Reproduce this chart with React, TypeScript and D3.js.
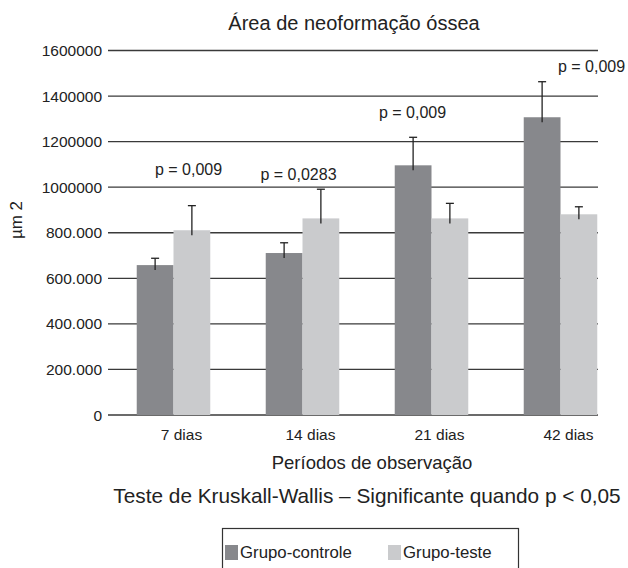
import React, { useEffect, useRef } from "react";
import * as d3 from "d3";

// data
const periods = ["7 dias", "14 dias", "21 dias", "42 dias"];
const controle = [658000, 711000, 1096000, 1307000];
const controleErr = [30000, 45000, 123000, 156000];
const teste = [811000, 863000, 863000, 881000];
const testeErr = [108000, 128000, 66000, 33000];
const pLabels = ["p = 0,009", "p = 0,0283", "p = 0,009", "p = 0,009"];
const yTicks = [0, 200000, 400000, 600000, 800000, 1000000, 1200000, 1400000, 1600000];
const yTickLabels = ["0", "200.000", "400.000", "600.000", "800.000", "1000000", "1200000", "1400000", "1600000"];
const seriesNames = ["Grupo-controle", "Grupo-teste"];

// layout only: where the p labels sit relative to their group (px)
const pNudge = [[15, -31], [-4, -9], [-19, -19], [31, -10]];

const W = 628;
const H = 568;
const FONT = "'Liberation Sans', Arial, Helvetica, sans-serif";
const DARK = "#87888c";
const LIGHT = "#cacbcd";
const INK = "#222";

export default function App() {
    const ref = useRef<SVGSVGElement>(null);

    useEffect(() => {
        const svg = d3.select(ref.current);
        svg.selectAll("*").remove();

        const left = 108, right = 598;
        const y = d3.scaleLinear().domain([0, 1600000]).range([415, 50.5]);
        const x0 = d3.scaleBand().domain(periods).range([109, 625]).paddingInner(0.43).paddingOuter(0.215);
        const x1 = d3.scaleBand().domain(seriesNames).range([0, x0.bandwidth()]);

        svg.append("rect").attr("width", W).attr("height", H).attr("fill", "#fff");

        // title
        svg.append("text")
            .attr("x", 354).attr("y", 30)
            .attr("text-anchor", "middle")
            .style("font-size", "20px")
            .text("Área de neoformação óssea");

        // gridlines + tick labels
        const g = svg.append("g");
        g.selectAll("line.grid").data(yTicks).enter().append("line")
            .attr("x1", left).attr("x2", right)
            .attr("y1", d => y(d)).attr("y2", d => y(d))
            .attr("stroke", "#3a3a3a").attr("stroke-width", 1.3);
        g.selectAll("text.tick").data(yTicks).enter().append("text")
            .attr("x", 102).attr("y", d => y(d) + 5.5)
            .attr("text-anchor", "end")
            .style("font-size", "15.5px")
            .text((d, i) => yTickLabels[i]);

        // y title
        svg.append("text")
            .attr("transform", "translate(22,220) rotate(-90)")
            .attr("text-anchor", "middle")
            .style("font-size", "17px")
            .text("µm 2");

        // bars
        const series = [
            { name: seriesNames[0], vals: controle, errs: controleErr, color: DARK },
            { name: seriesNames[1], vals: teste, errs: testeErr, color: LIGHT },
        ];
        series.forEach(s => {
            const bx = (i: number) => (x0(periods[i]) as number) + (x1(s.name) as number);
            svg.append("g").selectAll("rect").data(s.vals).enter().append("rect")
                .attr("x", (d, i) => bx(i))
                .attr("y", d => y(d))
                .attr("width", x1.bandwidth())
                .attr("height", d => y(0) - y(d))
                .attr("fill", s.color);
            const eg = svg.append("g").attr("stroke", INK).attr("stroke-width", 1.3);
            s.vals.forEach((v, i) => {
                const cx = bx(i) + x1.bandwidth() / 2;
                const top = y(v + s.errs[i]);
                eg.append("line").attr("x1", cx).attr("x2", cx).attr("y1", y(v) + 5).attr("y2", top);
                eg.append("line").attr("x1", cx - 4).attr("x2", cx + 4).attr("y1", top).attr("y2", top);
            });
        });

        // p-values
        periods.forEach((p, i) => {
            const top = Math.min(y(controle[i] + controleErr[i]), y(teste[i] + testeErr[i]));
            const cx = (x0(p) as number) + x0.bandwidth() / 2;
            svg.append("text")
                .attr("x", cx + pNudge[i][0]).attr("y", top + pNudge[i][1])
                .attr("text-anchor", "middle")
                .style("font-size", "16px")
                .text(pLabels[i]);
        });

        // category labels
        svg.append("g").selectAll("text").data(periods).enter().append("text")
            .attr("x", d => (x0(d) as number) + x0.bandwidth() / 2 + 8)
            .attr("y", 440)
            .attr("text-anchor", "middle")
            .style("font-size", "15.5px")
            .text(d => d);

        svg.append("text")
            .attr("x", 372).attr("y", 469)
            .attr("text-anchor", "middle")
            .style("font-size", "18.5px")
            .text("Períodos de observação");

        svg.append("text")
            .attr("x", 367).attr("y", 503)
            .attr("text-anchor", "middle")
            .style("font-size", "20.8px")
            .text("Teste de Kruskall-Wallis – Significante quando p < 0,05");

        // legend
        const lg = svg.append("g");
        lg.append("rect")
            .attr("x", 222.5).attr("y", 528.5).attr("width", 296).attr("height", 60)
            .attr("fill", "none").attr("stroke", "#333").attr("stroke-width", 1.2);
        const lx = [225, 388];
        series.forEach((s, i) => {
            lg.append("rect").attr("x", lx[i]).attr("y", 545).attr("width", 13).attr("height", 15).attr("fill", s.color);
            lg.append("text").attr("x", lx[i] + 15).attr("y", 558)
                .style("font-size", "16.8px")
                .text(s.name);
        });
    }, []);

    return (
        <svg ref={ref} width={W} height={H}
            style={{ position: "absolute", left: 0, top: 0, fontFamily: FONT, fill: INK }} />
    );
}
